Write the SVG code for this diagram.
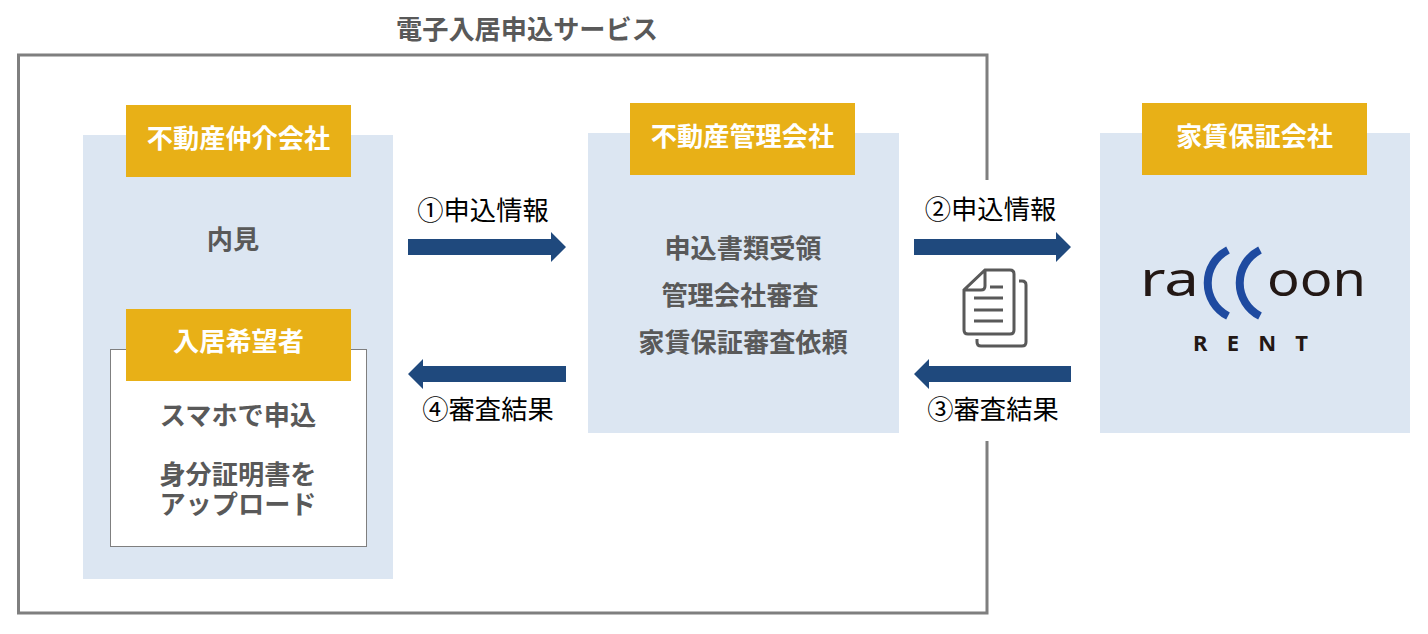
<svg xmlns="http://www.w3.org/2000/svg" width="1428" height="634" viewBox="0 0 1428 634">
<style>
text{font-family:"Noto Sans CJK JP","Liberation Sans",sans-serif;text-anchor:middle}
.panel{fill:#dce6f2}
.tag{fill:#e8b017}
.tagt{fill:#fff;font-size:26.200px;font-weight:700}
.body{fill:#595959;font-size:26.200px;font-weight:700}
.lbl{fill:#000;font-size:26.300px}
.arrow{fill:#1f497d}
.ic{fill:none;stroke:#595959;stroke-width:3}
.logo{font-family:"Noto Sans","Liberation Sans",sans-serif;fill:#231815;text-anchor:start}
</style>
<rect width="1428" height="634" fill="#fff"/>
<g id="frame">
<path d="M987 180V55H18.500V613H987V441" fill="none" stroke="#7f7f7f" stroke-width="3"/>
<text x="527" y="39" class="body">電子入居申込サービス</text>
</g>
<g id="broker">
<rect class="panel" x="83" y="135" width="310" height="444"/>
<rect class="tag" x="126" y="105" width="225" height="72"/>
<text x="238.500" y="148" class="tagt">不動産仲介会社</text>
<text x="233" y="249" class="body">内見</text>
</g>
<g id="applicant">
<rect x="110.500" y="349.500" width="256" height="197" fill="#fff" stroke="#7f7f7f"/>
<rect class="tag" x="126" y="309" width="225" height="72"/>
<text x="238.500" y="351" class="tagt">入居希望者</text>
<text x="238" y="425" class="body">スマホで申込</text>
<text class="body"><tspan x="238" y="484">身分証明書を</tspan><tspan x="238" y="514">アップロード</tspan></text>
</g>
<g id="manager">
<rect class="panel" x="588" y="133" width="311" height="300"/>
<rect class="tag" x="630" y="103" width="225" height="72"/>
<text x="742.500" y="146" class="tagt">不動産管理会社</text>
<text x="743" y="258" class="body">申込書類受領</text>
<text x="740" y="305" class="body">管理会社審査</text>
<text x="743" y="352" class="body">家賃保証審査依頼</text>
</g>
<g id="guarantor">
<rect class="panel" x="1100" y="133" width="310" height="300"/>
<rect class="tag" x="1142" y="103" width="225" height="72"/>
<text x="1254.500" y="146" class="tagt">家賃保証会社</text>
<g id="logo">
<text class="logo" x="1140" y="296" font-size="48" textLength="59" lengthAdjust="spacingAndGlyphs">ra</text>
<text class="logo" x="1267" y="296" font-size="48" textLength="99" lengthAdjust="spacingAndGlyphs">oon</text>
<path d="M1228 250A37 37 0 0 0 1228 316M1260 250A37 37 0 0 0 1260 316" fill="none" stroke="#1e4aa0" stroke-width="8"/>
<text class="logo" x="1193" y="351" font-size="22" font-weight="700" textLength="115">RENT</text>
</g>
</g>
<g id="connectors">
<path class="arrow" d="M408 239H551V232L566 247L551 262V255H408Z"/>
<path class="arrow" d="M914 239H1056V232L1071 247L1056 262V255H914Z"/>
<path class="arrow" d="M566 366H423V359L408 374L423 389V382H566Z"/>
<path class="arrow" d="M1071 366H929V359L914 374L929 389V382H1071Z"/>
</g>
<g id="labels">
<text x="483" y="220" class="lbl">①申込情報</text>
<text x="990.500" y="219" class="lbl">②申込情報</text>
<text x="488" y="419" class="lbl">④審査結果</text>
<text x="993" y="419" class="lbl">③審査結果</text>
</g>
<g id="doc-icon" class="ic">
<path d="M985 270H1010Q1014 270 1014 274V330Q1014 334 1010 334H968Q964 334 964 330V290ZM985 270V286Q985 290 981 290H964"/>
<path d="M1019 281H1022Q1026 281 1026 285V342Q1026 346 1022 346H981Q977 346 977 342V339"/>
<path d="M990 287H1003M974 298H1003M974 310H1003M974 321H1003"/>
</g>
</svg>
